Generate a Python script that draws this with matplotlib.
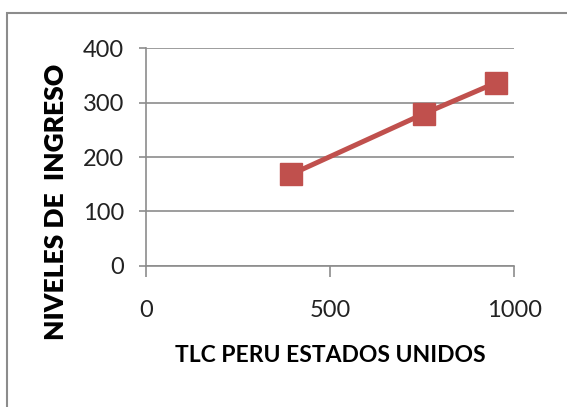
import matplotlib.pyplot as plt
from matplotlib.patches import Rectangle

# TLC Peru - Estados Unidos vs niveles de ingreso
tlc = [393, 755, 951]
ingreso = [168, 280, 337]

x_ticks = [0, 500, 1000]
y_ticks = [0, 100, 200, 300, 400]

plt.rcParams['font.family'] = ['Lato', 'DejaVu Sans']

fig = plt.figure(figsize=(5.67, 4.07), dpi=100)
ax = fig.add_axes([0.258, 0.347, 0.649, 0.534])

# chart frame (open on the right and bottom)
fig.patches.append(Rectangle((0.013, -0.05), 1.2, 1.017, transform=fig.transFigure,
                             fill=False, edgecolor='#8c8c8c', linewidth=1.5))

ax.plot(tlc, ingreso, color='#C0504D', linewidth=3.6, marker='s',
        markersize=16, markeredgecolor='#C0504D', zorder=3)

ax.set_xlim(0, 1000)
ax.set_ylim(0, 400)
ax.set_xticks(x_ticks)
ax.set_yticks(y_ticks)
ax.grid(axis='y', color='#8c8c8c', linewidth=1.2)
ax.set_axisbelow(True)

for s in ['top', 'right']:
    ax.spines[s].set_visible(False)
for s in ['left', 'bottom']:
    ax.spines[s].set_color('#8c8c8c')
    ax.spines[s].set_linewidth(1.2)

ax.tick_params(axis='both', colors='#8c8c8c', labelcolor='#222222', labelsize=17,
               width=1.2)
ax.tick_params(axis='x', length=8, pad=17)
ax.tick_params(axis='y', length=5, pad=11)

ax.set_xlabel('TLC PERU ESTADOS UNIDOS', fontsize=16.5, fontweight='bold',
              va='center', ha='center')
ax.xaxis.set_label_coords(0.499, -0.411)
ax.set_ylabel('NIVELES DE  INGRESO', fontsize=19, fontweight='heavy',
              va='center', ha='center')
ax.yaxis.set_label_coords(-0.246, 0.293)

fig.savefig('out.png', dpi=100)
